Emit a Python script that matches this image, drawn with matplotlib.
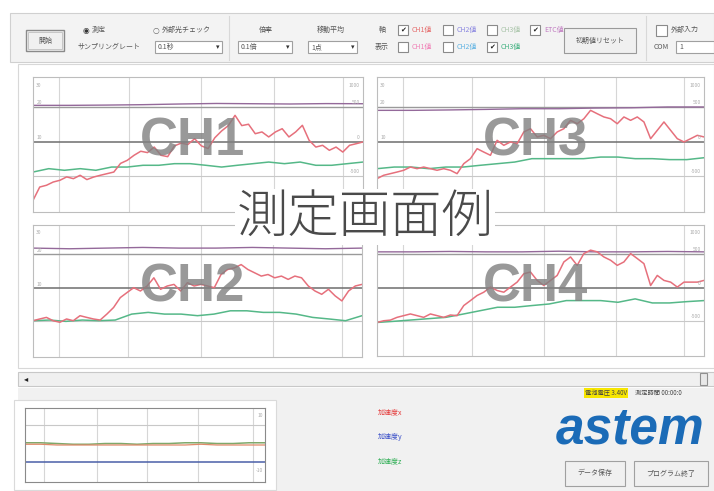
import matplotlib.pyplot as plt
import matplotlib.patches as mpatches
import numpy as np

plt.rcParams['font.family'] = ['Noto Sans CJK JP', 'DejaVu Sans']

W, H = 714, 491

# signal values, 0-100 = bottom-top of each panel
ch1_red = [8.6, 18.5, 19.8, 22.2, 23.5, 26.0, 24.7, 27.2, 24.0, 25.9, 27.2, 28.4, 29.6,
           36.0, 38.3, 42.0, 45.0, 44.0, 48.1, 42.0, 41.0, 49.0, 51.0, 50.0, 54.3, 49.0,
           47.0, 55.0, 60.0, 64.0, 71.6, 64.0, 65.0, 58.0, 59.3, 55.6, 59.3, 61.7, 55.6,
           59.3, 64.2, 53.1, 48.1, 49.4, 45.7, 48.1, 44.4, 49.4, 50.6, 51.9]
ch1_green = [29.6, 32.1, 30.9, 32.1, 30.9, 33.3, 33.3, 34.6, 34.6, 35.8, 35.8, 34.6,
             33.3, 34.6, 35.8, 37.0, 35.8, 37.0, 34.6, 34.6, 35.8, 37.0]
ch1_purple = [79.0, 79.0, 79.2, 79.5, 80.0, 80.4, 80.2, 80.0, 80.3, 80.2]

ch3_red = [24.7, 27.2, 28.4, 29.6, 30.9, 33.3, 32.1, 33.3, 32.1, 30.9, 32.1, 30.9, 28.4,
           35.8, 39.5, 46.9, 44.4, 42.0, 53.1, 49.4, 51.9, 50.6, 59.3, 61.7, 55.6, 56.8,
           54.3, 59.3, 61.7, 67.9, 65.4, 69.1, 75.3, 72.8, 70.4, 69.1, 65.4, 70.4, 67.9,
           70.4, 66.7, 54.3, 60.5, 66.7, 60.5, 54.3, 51.9, 54.3, 56.8, 55.6]
ch3_green = [32.1, 33.3, 33.3, 32.1, 33.3, 33.3, 34.6, 35.8, 37.0, 39.5, 39.5, 39.5,
             39.5, 40.7, 40.7, 39.5, 39.5, 38.8, 38.8, 40.2]
ch3_purple = [75.3, 75.3, 75.6, 76.0, 76.5, 76.5, 77.0, 77.2, 77.8, 77.8]

ch2_red = [27.5, 28.8, 30.0, 27.5, 26.3, 28.8, 27.5, 31.3, 30.0, 28.8, 28.0, 32.5, 37.5,
           45.0, 48.8, 52.5, 50.0, 53.8, 60.0, 51.3, 53.8, 55.0, 50.0, 56.3, 53.8, 55.0,
           53.8, 52.5, 62.5, 66.3, 67.5, 70.0, 66.3, 63.8, 61.3, 62.5, 60.0, 61.3, 58.8,
           61.3, 60.0, 53.8, 50.0, 47.5, 51.3, 46.3, 42.5, 50.0, 53.8, 55.0]
ch2_green = [27.5, 28.0, 27.0, 28.0, 27.5, 28.0, 32.5, 33.8, 32.5, 32.5, 31.3, 32.5,
             35.0, 35.0, 33.8, 33.8, 32.5, 30.0, 28.8, 27.5, 31.3]
ch2_purple = [82.5, 82.0, 82.5, 83.0, 82.5, 82.5, 83.0, 82.5, 82.0, 82.5]

ch4_red = [25.6, 26.9, 27.4, 29.5, 30.8, 32.1, 30.8, 29.5, 32.1, 30.8, 29.5, 31.3, 30.8,
           38.5, 42.3, 46.2, 48.7, 52.6, 50.0, 48.7, 52.6, 56.4, 62.8, 64.1, 57.7, 53.8,
           57.7, 61.5, 71.8, 75.6, 69.2, 78.2, 80.8, 79.5, 75.6, 73.1, 69.2, 71.8, 78.2,
           74.4, 70.5, 53.8, 61.5, 57.7, 56.4, 52.6, 56.4, 56.4, 56.4, 57.7]
ch4_green = [25.6, 26.5, 27.5, 28.5, 29.5, 32.0, 34.6, 37.2, 37.2, 38.5, 39.7, 42.3,
             42.3, 42.3, 41.0, 43.6, 40.5, 40.5, 41.5, 42.3]
ch4_purple = [79.5, 79.5, 79.8, 79.5, 79.5, 80.0, 79.5, 79.5, 79.8, 79.5]

sub_red = [51, 51, 50, 50, 50, 50, 50, 50, 50, 50, 50, 51, 50, 50, 50, 50]
sub_green = [53, 53, 52, 51, 51, 52, 52, 51, 52, 52, 53, 53, 52, 52, 53, 53]
sub_blue = [27, 27, 27, 27, 27, 27, 27, 27]

RED, GREEN, PURPLE, BLUE = '#e6707c', '#55b888', '#94699a', '#4a5fa8'
TXT = '#555555'


def frac(x0, y0, x1, y1):
    return [x0 / W, 1 - y1 / H, (x1 - x0) / W, (y1 - y0) / H]


fig = plt.figure(figsize=(W / 100, H / 100), dpi=100)
fig.patch.set_facecolor('white')
bg = fig.add_axes([0, 0, 1, 1])
bg.set_xlim(0, W)
bg.set_ylim(H, 0)
bg.axis('off')


def rect(x0, y0, x1, y1, fc='none', ec='#b8b8b8', lw=0.8, z=1):
    bg.add_patch(mpatches.Rectangle((x0, y0), x1 - x0, y1 - y0, facecolor=fc,
                                    edgecolor=ec, linewidth=lw, zorder=z))


def label(x, y, s, size=5, color=TXT, ha='left', **kw):
    bg.text(x, y, s, fontsize=size, color=color, ha=ha, va='center', **kw)


# toolbar
rect(10, 13, 714, 62, fc='#f3f3f3', ec='#d0d0d0')
rect(26, 30, 64, 51, fc='#f0f0f0', ec='#8a8a8a', lw=1.0)
rect(28, 32, 62, 49, fc='none', ec='#c0c0c0', lw=0.6)
label(45, 40.5, '開始', ha='center')
label(83, 30, '◉', size=5.5, color='#333333', family=['DejaVu Sans'])
label(92, 30, '測定')
label(153, 30, '○', size=5.5, color='#666666', family=['DejaVu Sans'])
label(162, 30, '外部光チェック')
label(78, 47, 'サンプリングレート')
rect(155, 41, 222, 53, fc='white', ec='#a0a0a0')
label(158, 47, '0.1秒')
label(216, 47, '▾', size=5, color='#333333', family=['DejaVu Sans'])
bg.plot([229, 229], [16, 60], color='#d8d8d8', lw=0.8)
label(266, 30, '倍率', ha='center')
rect(238, 41, 292, 53, fc='white', ec='#a0a0a0')
label(241, 47, '0.1倍')
label(286, 47, '▾', size=5, color='#333333', family=['DejaVu Sans'])
label(331, 30, '移動平均', ha='center')
rect(308, 41, 357, 53, fc='white', ec='#a0a0a0')
label(311, 47, '1点')
label(351, 47, '▾', size=5, color='#333333', family=['DejaVu Sans'])
label(382, 30, '軸', ha='center')
label(382, 47, '表示', ha='center')

checks = [(398, 30, True, 'CH1値', '#e56b6b'), (443, 30, False, 'CH2値', '#8a86e0'),
          (487, 30, False, 'CH3値', '#a9c4a9'), (530, 30, True, 'ETC値', '#c07ac0'),
          (398, 47, False, 'CH1値', '#f07fb6'), (443, 47, False, 'CH2値', '#5fb3e3'),
          (487, 47, True, 'CH3値', '#3fb07f')]
for cx, cy, on, s, c in checks:
    rect(cx, cy - 5, cx + 10, cy + 5, fc='white', ec='#8a8a8a')
    if on:
        label(cx + 5, cy, '✔', size=5, color='#222222', ha='center', family=['DejaVu Sans'])
    label(cx + 14, cy, s, color=c)

rect(564, 28, 636, 53, fc='#f0f0f0', ec='#9a9a9a')
label(600, 40.5, '初期値リセット', ha='center')
bg.plot([646, 646], [16, 60], color='#d8d8d8', lw=0.8)
rect(656, 25, 667, 36, fc='white', ec='#8a8a8a')
label(671, 30, '外部入力')
label(654, 47, 'COM')
rect(676, 41, 714, 53, fc='white', ec='#a0a0a0')
label(679, 47, '1')

# main area
rect(18, 64, 714, 368, fc='white', ec='#d8d8d8')

# scrollbar + bottom area
rect(18, 372, 714, 386, fc='#f0f0f0', ec='#c8c8c8')
label(24, 379, '◂', size=6, color='#222222', family=['DejaVu Sans'])
rect(700, 373, 707, 385, fc='#e8e8e8', ec='#909090')
rect(18, 388, 714, 491, fc='#f1f1f1', ec='none')
label(585, 393, '電池電圧 3.40V', size=4.5, color='#444444',
      bbox=dict(facecolor='#f7e600', edgecolor='none', pad=0.6))
label(635, 393, '測定時間 00:00:0', size=4.5, color='#444444')
rect(14, 400, 276, 490, fc='white', ec='#dadada')

label(378, 412, '加速度x', color='#e53c3c')
label(378, 437, '加速度y', color='#3a4fc8')
label(378, 461, '加速度z', color='#2fae55')

bg.text(630, 430, 'astem', fontsize=37, color='#1b6bb7', ha='center', va='center',
        family=['Liberation Sans'], fontweight='bold', fontstyle='italic')
rect(565, 461, 625, 486, fc='#f0f0f0', ec='#a0a0a0')
label(595, 473.5, 'データ保存', ha='center')
rect(634, 461, 708, 486, fc='#f0f0f0', ec='#a0a0a0')
label(671, 473.5, 'プログラム終了', ha='center')


def panel(box, red, green, purple, name, left_tags=True, right_tags=True):
    ax = fig.add_axes(frac(*box))
    ax.set_xlim(0, 100)
    ax.set_ylim(0, 100)
    for v in [8, 29, 51, 73, 94]:
        ax.axvline(v, color='#d6d6d6', lw=0.8)
    ax.axhline(78, color='#9a9a9a', lw=1.0)
    ax.axhline(52, color='#6e6e6e', lw=1.1)
    ax.axhline(27, color='#c8c8c8', lw=0.8)
    ax.plot(np.linspace(0, 100, len(purple)), purple, color=PURPLE, lw=1.0)
    ax.plot(np.linspace(0, 100, len(green)), green, color=GREEN, lw=1.1)
    ax.plot(np.linspace(0, 100, len(red)), red, color=RED, lw=1.1)
    for sp in ax.spines.values():
        sp.set_color('#bdbdbd')
    ax.set_xticks([])
    ax.set_yticks([])
    if left_tags:
        for yy, s in [(94, '30'), (81, '20'), (55, '10')]:
            ax.text(1, yy, s, fontsize=3.5, color='#aaaaaa', va='center')
    if right_tags:
        for yy, s in [(94, '1000'), (81, '500'), (55, '0'), (30, '-500')]:
            ax.text(99, yy, s, fontsize=3.5, color='#aaaaaa', va='center', ha='right')
    cx = (box[0] + box[2]) / 2 - 5
    cy = (box[1] + box[3]) / 2 - 3
    fig.text(cx / W, 1 - cy / H, name, fontsize=38, color='#808080', alpha=0.8,
             ha='center', va='center', family=['Liberation Sans'], fontweight='bold')
    return ax


panel((33, 77, 363, 212), ch1_red, ch1_green, ch1_purple, 'CH1')
panel((377, 77, 704, 212), ch3_red, ch3_green, ch3_purple, 'CH3')
panel((33, 225, 362, 357), ch2_red, ch2_green, ch2_purple, 'CH2', right_tags=False)
panel((377, 225, 704, 356), ch4_red, ch4_green, ch4_purple, 'CH4', left_tags=False)

# sub chart
sub = fig.add_axes(frac(25, 408, 265, 482))
sub.set_xlim(0, 100)
sub.set_ylim(0, 100)
for v in [8, 30, 51, 72, 95]:
    sub.axvline(v, color='#d6d6d6', lw=0.8)
sub.axhline(77, color='#c8c8c8', lw=0.8)
sub.plot(np.linspace(0, 100, len(sub_blue)), sub_blue, color=BLUE, lw=1.1)
sub.plot(np.linspace(0, 100, len(sub_green)), sub_green, color='#7fa86a', lw=1.1)
sub.plot(np.linspace(0, 100, len(sub_red)), sub_red, color='#e08a6a', lw=0.9)
for sp in sub.spines.values():
    sp.set_color('#8a8a8a')
sub.set_xticks([])
sub.set_yticks([])
sub.text(99, 90, '10', fontsize=3.5, color='#aaaaaa', va='center', ha='right')
sub.text(99, 15, '-10', fontsize=3.5, color='#aaaaaa', va='center', ha='right')

# caption
fig.text(365 / W, 1 - 217 / H, '測定画面例', fontsize=37, color='#4a4a4a',
         ha='center', va='center', fontweight='light',
         bbox=dict(facecolor='white', edgecolor='none', pad=1.0))

fig.savefig('out.png', dpi=100)
